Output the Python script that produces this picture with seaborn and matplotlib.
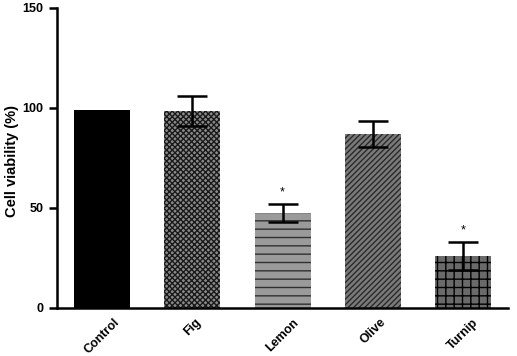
import matplotlib
matplotlib.use("Agg")
import matplotlib.pyplot as plt
import seaborn as sns
import pandas as pd

# Values
groups = ["Control", "Fig", "Lemon", "Olive", "Turnip"]
viability = [99, 98.5, 47.5, 87, 26]
sem = [0, 7.5, 4.5, 6.5, 7]
significant = [False, False, True, False, True]

df = pd.DataFrame({"group": groups, "viability": viability})

sns.set_theme(style="ticks")
plt.rcParams["font.family"] = ["Liberation Sans", "DejaVu Sans"]
plt.rcParams["hatch.linewidth"] = 1.0
plt.rcParams["text.color"] = "black"
plt.rcParams["axes.labelcolor"] = "black"
plt.rcParams["xtick.color"] = "black"
plt.rcParams["ytick.color"] = "black"
plt.rcParams["axes.edgecolor"] = "black"

fig, ax = plt.subplots(figsize=(5.17, 3.56), dpi=100)
sns.barplot(data=df, x="group", y="viability", ax=ax, width=0.62,
            color="#808080", saturation=1, edgecolor="none")

# fill / hatch per bar, roughly imitating the GraphPad patterns
styles = [
    ("black", None, "black"),
    ("#8a8a8a", "xxxxxx", "#1a1a1a"),
    ("#9a9a9a", "--", "#303030"),
    ("#7a7a7a", "//////", "#2a2a2a"),
    ("#6a6a6a", "++", "#000000"),
]
for bar, (fc, hatch, hc) in zip(ax.patches, styles):
    bar.set_facecolor(fc)
    if hatch:
        bar.set_hatch(hatch)
        bar.set_edgecolor(hc)
        bar.set_linewidth(0)

xs = range(len(groups))
for x, v, e, s in zip(xs, viability, sem, significant):
    if e > 0:
        ax.errorbar(x, v, yerr=e, color="black", capsize=11, capthick=1.8,
                    elinewidth=1.8, zorder=5)
    if s:
        ax.text(x, v + e + 2.5, "*", ha="center", va="bottom", fontsize=9,
                color="black")

ax.set_ylim(0, 150)
ax.set_xlim(-0.5, 4.5)
ax.set_yticks([0, 50, 100, 150])
ax.set_xlabel("")
ax.set_ylabel("Cell viability (%)", fontsize=10.5, fontweight="bold")
ax.yaxis.set_label_coords(-0.085, 0.49)
ax.tick_params(axis="y", labelsize=9, width=1.8, length=6)
ax.tick_params(axis="x", length=0, labelsize=9, pad=6)
for lab in ax.get_yticklabels():
    lab.set_fontweight("bold")
for lab in ax.get_xticklabels():
    lab.set_fontweight("bold")
    lab.set_rotation(45)
    lab.set_ha("center")
for sp in ["left", "bottom"]:
    ax.spines[sp].set_linewidth(1.8)
sns.despine(ax=ax)

fig.subplots_adjust(left=0.110, right=0.983, bottom=0.135, top=0.978)
fig.savefig("out.png", dpi=100)
